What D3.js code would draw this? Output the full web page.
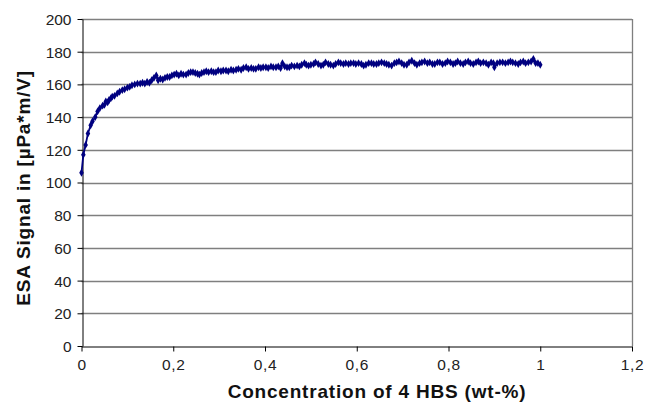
<!DOCTYPE html>
<html>
<head>
<meta charset="utf-8">
<script src="https://cdn.jsdelivr.net/npm/d3@7"></script>
<style>
  body { margin: 0; background: #fff; }
  svg text { font-family: "Liberation Sans", Arial, sans-serif; }
</style>
</head>
<body>
<div id="container"></div>
<script>
const conc = [
  0, 0.004, 0.009, 0.014, 0.02, 0.024, 0.03, 0.035, 0.04, 0.046, 0.05, 0.053, 0.057, 0.06, 0.064,
  0.067, 0.072, 0.078, 0.083, 0.089, 0.094, 0.1, 0.105, 0.11, 0.116, 0.122, 0.128, 0.133, 0.138,
  0.143, 0.148, 0.153, 0.158, 0.163, 0.167, 0.172, 0.177, 0.182, 0.187, 0.192, 0.197, 0.202, 0.207,
  0.212, 0.217, 0.222, 0.228, 0.233, 0.238, 0.243, 0.248, 0.253, 0.257, 0.262, 0.267, 0.272, 0.277,
  0.283, 0.288, 0.293, 0.298, 0.304, 0.309, 0.315, 0.32, 0.326, 0.331, 0.337, 0.342, 0.348, 0.353,
  0.359, 0.364, 0.37, 0.375, 0.38, 0.386, 0.391, 0.396, 0.402, 0.407, 0.413, 0.418, 0.424, 0.429,
  0.434, 0.438, 0.443, 0.448, 0.453, 0.458, 0.464, 0.47, 0.475, 0.48, 0.486, 0.49, 0.495, 0.5,
  0.506, 0.51, 0.516, 0.522, 0.527, 0.532, 0.538, 0.543, 0.549, 0.554, 0.56, 0.565, 0.571, 0.576,
  0.582, 0.587, 0.593, 0.598, 0.604, 0.61, 0.615, 0.62, 0.626, 0.632, 0.637, 0.643, 0.648, 0.654,
  0.66, 0.665, 0.67, 0.676, 0.682, 0.687, 0.692, 0.698, 0.703, 0.709, 0.714, 0.72, 0.726, 0.731,
  0.737, 0.742, 0.748, 0.754, 0.759, 0.765, 0.77, 0.776, 0.781, 0.787, 0.793, 0.798, 0.804, 0.81,
  0.815, 0.82, 0.826, 0.832, 0.837, 0.843, 0.848, 0.854, 0.86, 0.865, 0.87, 0.876, 0.882, 0.887,
  0.893, 0.898, 0.9, 0.906, 0.912, 0.918, 0.924, 0.93, 0.935, 0.94, 0.946, 0.952, 0.957, 0.963,
  0.968, 0.974, 0.98, 0.985, 0.99, 0.995, 1.0
];

const esa = [
  106, 117, 123, 130, 135, 137.5, 140, 143.5, 145.5, 147, 147.5, 149.5, 149, 150.5, 151.5,
  152.5, 153, 154.5, 155.5, 156.5, 157, 158, 158.5, 159.5, 160, 160.5, 160.5, 161, 160.5,
  161.5, 161, 162.5, 164, 165.5, 162.5, 163.5, 163, 164, 164.5, 164.5, 165.5, 166, 166.5,
  165.5, 166.5, 166, 166, 167, 167.5, 167.5, 167, 166.5, 166, 167, 167.5, 168, 167.5,
  168, 167.5, 167.5, 168.5, 168, 168.5, 168.5, 168, 169, 168.5, 169, 169.5, 169, 170,
  170.5, 169.5, 170, 169.5, 169.5, 170.5, 170, 170.5, 170.5, 170, 171, 170.5, 170.5, 171,
  170, 173, 171, 170.5, 170.5, 171.5, 171, 171.5, 171, 172, 173, 172, 171.5, 172,
  172.5, 173.5, 172.5, 171.5, 172, 173.5, 172.5, 172, 171.5, 172.5, 173.5, 173, 172.5, 173,
  172.5, 173, 173, 172.5, 173, 172.5, 171.5, 172, 173, 173, 172.5, 172.5, 173, 173.5,
  173, 172.5, 172, 171.5, 173, 173.5, 174, 173, 172, 172, 173.5, 174.5, 173, 172,
  173, 173.5, 174, 173, 173.5, 172.5, 172.5, 173.5, 173.5, 172.5, 173, 174, 173.5, 172.5,
  173, 174, 173, 172.5, 173.5, 174, 173, 172.5, 173.5, 174, 173, 173.5, 173, 172,
  173.5, 173, 170.5, 173, 173.5, 173.5, 173, 173.5, 174, 173.5, 173, 172.5, 173.5, 174,
  173, 173.5, 174, 175.5, 173, 173, 172
];

const xTicks = [0, 0.2, 0.4, 0.6, 0.8, 1, 1.2];
const yTicks = [0, 20, 40, 60, 80, 100, 120, 140, 160, 180, 200];

const data = conc.map((c, i) => ({ x: c, y: esa[i] }));

const width = 645;
const height = 406;
const margin = { top: 19, right: 13, bottom: 60, left: 81.5 };

const svg = d3
  .select("#container")
  .append("svg")
  .attr("width", width)
  .attr("height", height);

const x = d3
  .scaleLinear()
  .domain([0, 1.2])
  .range([margin.left, width - margin.right]);

const y = d3
  .scaleLinear()
  .domain([0, 200])
  .range([height - margin.bottom, margin.top]);

// gridlines
svg
  .append("g")
  .selectAll("line")
  .data(yTicks.filter((d) => d > 0))
  .enter()
  .append("line")
  .attr("x1", x(0))
  .attr("x2", x(1.2))
  .attr("y1", (d) => Math.round(y(d)) + 0.5)
  .attr("y2", (d) => Math.round(y(d)) + 0.5)
  .attr("stroke", "#7f7f7f")
  .attr("stroke-width", 1.3);

// right border of plot area
svg
  .append("line")
  .attr("x1", Math.round(x(1.2)) + 0.5)
  .attr("x2", Math.round(x(1.2)) + 0.5)
  .attr("y1", y(200))
  .attr("y2", y(0))
  .attr("stroke", "#7f7f7f")
  .attr("stroke-width", 1.3);

const fmt = (d) => String(d).replace(".", ",");

const xAxis = svg
  .append("g")
  .attr("transform", `translate(0,${Math.round(y(0)) + 0.5})`)
  .call(d3.axisBottom(x).tickValues(xTicks).tickFormat(fmt).tickSize(5).tickSizeOuter(0));

const yAxis = svg
  .append("g")
  .attr("transform", `translate(${Math.round(x(0)) + 0.5},0)`)
  .call(d3.axisLeft(y).tickValues(yTicks).tickSize(5).tickSizeOuter(0).tickPadding(6));

[xAxis, yAxis].forEach((g) => {
  g.selectAll("path, line").attr("stroke", "#000").attr("stroke-width", 1);
  g.selectAll("text")
    .attr("fill", "#222")
    .style("font-size", "15.5px");
});
xAxis.selectAll("text").attr("dy", "1.0em").style("letter-spacing", "0.6px");
yAxis.selectAll("text").attr("dy", "0.35em");

// data line
const line = d3
  .line()
  .x((d) => x(d.x))
  .y((d) => y(d.y));

svg
  .append("path")
  .datum(data)
  .attr("d", line)
  .attr("fill", "none")
  .attr("stroke", "#000080")
  .attr("stroke-width", 1.8);

svg
  .append("g")
  .selectAll("path")
  .data(data)
  .enter()
  .append("path")
  .attr("d", d3.symbol(d3.symbolDiamond, 18))
  .attr("transform", (d) => `translate(${x(d.x)},${y(d.y)})`)
  .attr("fill", "#000080");

// axis titles
svg
  .append("text")
  .attr("x", 377)
  .attr("y", 398)
  .attr("text-anchor", "middle")
  .style("font-size", "19px")
  .style("font-weight", "bold")
  .style("letter-spacing", "0.8px")
  .attr("fill", "#111")
  .text("Concentration of 4 HBS (wt-%)");

svg
  .append("text")
  .attr("transform", `translate(30,188) rotate(-90)`)
  .attr("text-anchor", "middle")
  .style("font-size", "19px")
  .style("font-weight", "bold")
  .style("letter-spacing", "0.8px")
  .attr("fill", "#111")
  .text("ESA Signal in [µPa*m/V]");
</script>
</body>
</html>
